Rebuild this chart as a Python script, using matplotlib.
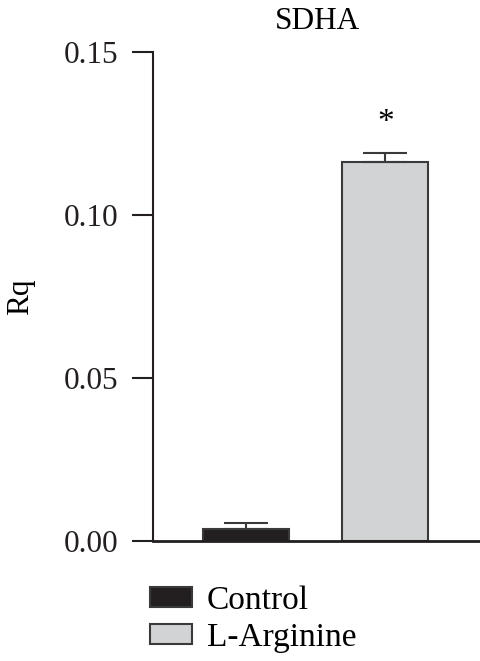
import matplotlib
matplotlib.use("Agg")
import matplotlib.pyplot as plt

plt.rcParams['font.family'] = ['Liberation Serif', 'DejaVu Serif']

groups = ["Control", "L-Arginine"]
means = [0.0037, 0.1162]
errs = [0.0018, 0.0028]
colors = ["#231f20", "#d1d3d4"]

fig = plt.figure(figsize=(4.81, 6.61), dpi=100)
ax = fig.add_axes([0.318, 0.1815, 0.682, 0.7395])

x = [0, 1]
for xi, m, e, c, g in zip(x, means, errs, colors, groups):
    ax.bar(xi, m, width=0.617, color=c, edgecolor="#3a3a3a", linewidth=1.5, label=g, zorder=2)
    ax.errorbar(xi, m, yerr=[[0], [e]], fmt="none", ecolor="#3a3a3a",
                elinewidth=1.5, capsize=16, capthick=1.5, zorder=3)

# significance mark
ax.text(1, 0.1283, "*", ha="center", va="center", fontsize=24)

ax.set_xlim(-0.667, 1.685)
ax.set_ylim(0, 0.15)
ax.set_yticks([0, 0.05, 0.10, 0.15])
ax.set_yticklabels(["0.00", "0.05", "0.10", "0.15"])
ax.set_xticks([])
ax.spines["top"].set_visible(False)
ax.spines["right"].set_visible(False)
ax.spines["left"].set_linewidth(1.5)
ax.spines["bottom"].set_linewidth(2)
ax.spines["left"].set_color("#231f20")
ax.spines["bottom"].set_color("#231f20")
ax.tick_params(axis="y", length=15, width=1.5, pad=10, labelsize=22.5, colors="#231f20")
ax.set_title("SDHA", fontsize=22.5, pad=17)
ax.set_ylabel("Rq", fontsize=22.5)
ax.yaxis.set_label_coords(-0.36, 0.5)

leg = fig.legend(loc="upper left", bbox_to_anchor=(0.284, 0.135), frameon=False,
                 fontsize=24, handlelength=1.25, handleheight=0.55, labelspacing=0.2,
                 handletextpad=0.45, borderaxespad=0)

fig.savefig("out.png", dpi=100)
